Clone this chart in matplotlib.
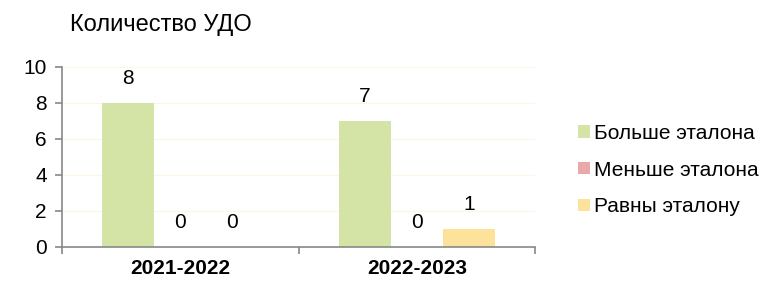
import matplotlib.pyplot as plt
import numpy as np

plt.rcParams['font.family'] = ['Liberation Sans', 'DejaVu Sans']

categories = ['2021-2022', '2022-2023']
series_names = ['Больше эталона', 'Меньше эталона', 'Равны эталону']
values = {
    'Больше эталона': [8, 7],
    'Меньше эталона': [0, 0],
    'Равны эталону': [0, 1],
}
colors = ['#D3E4A6', '#E9A9A9', '#FDE29B']

fig = plt.figure(figsize=(7.63, 2.81), dpi=100)
ax = fig.add_axes([62 / 763, 1 - 247 / 281, (535 - 62) / 763, (247 - 67) / 281])

x = np.arange(len(categories))
w = 0.22
for i, name in enumerate(series_names):
    pos = x + (i - 1) * w
    bars = ax.bar(pos, values[name], width=w, color=colors[i], label=name, zorder=2)
    for b, v in zip(bars, values[name]):
        ax.annotate(str(v), (b.get_x() + b.get_width() / 2, v),
                    xytext=(0, 11), textcoords='offset points',
                    ha='center', va='bottom', fontsize=15)

ax.set_xlim(-0.5, 1.5)
ax.set_ylim(0, 10)
ax.set_yticks([0, 2, 4, 6, 8, 10])
ax.tick_params(axis='y', labelsize=15, length=5, color='#888888', width=1.2, pad=6)
ax.set_xticks([-0.5, 0.5, 1.5])
ax.set_xticklabels([])
ax.set_xticks(x, minor=True)
ax.set_xticklabels(categories, minor=True, fontsize=15, fontweight='bold')
ax.tick_params(axis='x', which='major', length=5, color='#888888', width=1.2)
ax.tick_params(axis='x', which='minor', length=0, pad=9)
ax.grid(axis='y', color='#FDF6E6', linewidth=1, zorder=0)
for s in ['top', 'right']:
    ax.spines[s].set_visible(False)
for s in ['left', 'bottom']:
    ax.spines[s].set_color('#888888')
    ax.spines[s].set_linewidth(1.2)

fig.text(70 / 763, 1 - 25 / 281, 'Количество УДО', fontsize=17, va='center', ha='left')

fig.legend(loc='center left', bbox_to_anchor=(570 / 763, 1 - 170 / 281),
           frameon=False, fontsize=15, handlelength=0.55, handleheight=0.55,
           handletextpad=0.2, labelspacing=0.85, borderaxespad=0)

fig.savefig('out.png', dpi=100)
